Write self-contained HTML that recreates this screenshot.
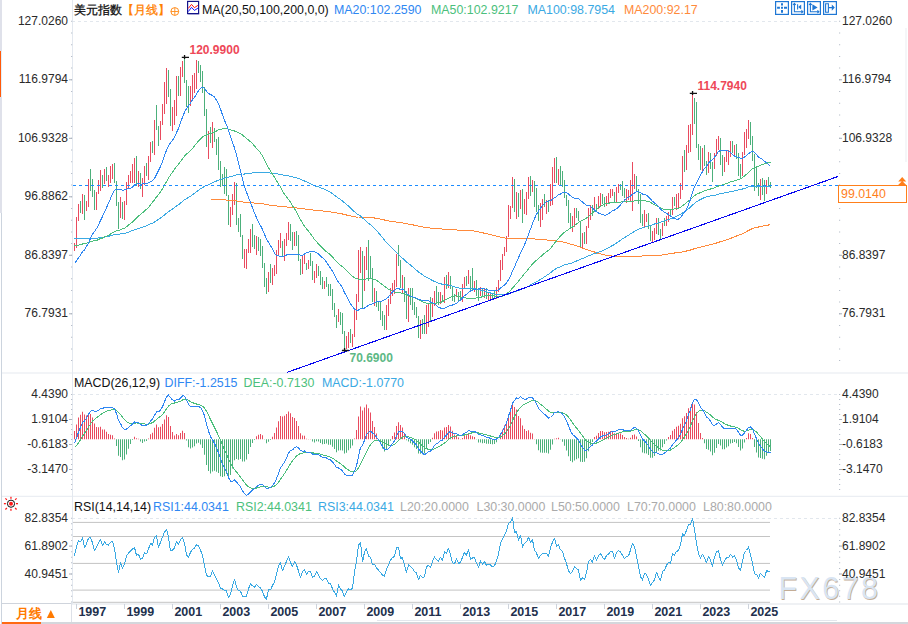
<!DOCTYPE html>
<html><head><meta charset="utf-8">
<style>
html,body{margin:0;padding:0;background:#fff;}
body{width:908px;height:624px;overflow:hidden;position:relative;font-family:"Liberation Sans",sans-serif;}
svg{position:absolute;left:0;top:0;}
.ax{font-size:12px;fill:#2a2a2a;}
.pk{font-size:12px;font-weight:bold;}
.yr{font-size:12.5px;font-weight:bold;fill:#22304d;}
.wm{font-size:30.5px;letter-spacing:2.4px;}
.hd{position:absolute;white-space:nowrap;font-size:12.4px;line-height:14px;}
</style></head><body>
<svg width="908" height="624" viewBox="0 0 908 624">
<text x="779.3" y="599.5" class="wm" fill="#c4ad96">FX678</text>
<text x="778.5" y="598.7" class="wm" fill="#d9e5f3">FX678</text>
<rect x="0" y="0" width="2" height="213" fill="#dfe1ea"/>
<rect x="1" y="213" width="1" height="411" fill="#ccd4de"/>
<rect x="0" y="51" width="1" height="46" fill="#ff5a0a"/>
<rect x="1" y="51" width="1" height="46" fill="#e3eef8"/>
<rect x="2" y="372.5" width="906" height="1" fill="#e6eaf0"/>
<rect x="2" y="495.8" width="906" height="1" fill="#e6eaf0"/>
<rect x="72" y="603.5" width="836" height="1" fill="#dfe3ea"/>
<rect x="72" y="0" width="1" height="604" fill="#e3e8ef"/>
<rect x="905.5" y="28" width="1" height="134" fill="#eceef2"/>
<line x1="72" y1="21.5" x2="838" y2="21.5" stroke="#e2e7ed" stroke-width="1" stroke-dasharray="3,3"/>
<path d="M71,20.8h1.2v1h-1.2zM839,20.8h1.2v1h-1.2zM71,32.5h1.2v1h-1.2zM839,32.5h1.2v1h-1.2zM71,44.2h1.2v1h-1.2zM839,44.2h1.2v1h-1.2zM71,55.9h1.2v1h-1.2zM839,55.9h1.2v1h-1.2zM71,67.6h1.2v1h-1.2zM839,67.6h1.2v1h-1.2zM71,79.3h1.2v1h-1.2zM839,79.3h1.2v1h-1.2zM71,91.0h1.2v1h-1.2zM839,91.0h1.2v1h-1.2zM71,102.7h1.2v1h-1.2zM839,102.7h1.2v1h-1.2zM71,114.4h1.2v1h-1.2zM839,114.4h1.2v1h-1.2zM71,126.1h1.2v1h-1.2zM839,126.1h1.2v1h-1.2zM71,137.8h1.2v1h-1.2zM839,137.8h1.2v1h-1.2zM71,149.5h1.2v1h-1.2zM839,149.5h1.2v1h-1.2zM71,161.2h1.2v1h-1.2zM839,161.2h1.2v1h-1.2zM71,172.9h1.2v1h-1.2zM839,172.9h1.2v1h-1.2zM71,184.6h1.2v1h-1.2zM839,184.6h1.2v1h-1.2zM71,196.3h1.2v1h-1.2zM839,196.3h1.2v1h-1.2zM71,208.0h1.2v1h-1.2zM839,208.0h1.2v1h-1.2zM71,219.7h1.2v1h-1.2zM839,219.7h1.2v1h-1.2zM71,231.4h1.2v1h-1.2zM839,231.4h1.2v1h-1.2zM71,243.1h1.2v1h-1.2zM839,243.1h1.2v1h-1.2zM71,254.8h1.2v1h-1.2zM839,254.8h1.2v1h-1.2zM71,266.5h1.2v1h-1.2zM839,266.5h1.2v1h-1.2zM71,278.2h1.2v1h-1.2zM839,278.2h1.2v1h-1.2zM71,289.9h1.2v1h-1.2zM839,289.9h1.2v1h-1.2zM71,301.6h1.2v1h-1.2zM839,301.6h1.2v1h-1.2zM71,313.3h1.2v1h-1.2zM839,313.3h1.2v1h-1.2zM71,325.0h1.2v1h-1.2zM839,325.0h1.2v1h-1.2zM71,336.7h1.2v1h-1.2zM839,336.7h1.2v1h-1.2zM71,348.4h1.2v1h-1.2zM839,348.4h1.2v1h-1.2zM71,360.1h1.2v1h-1.2zM839,360.1h1.2v1h-1.2z" fill="#b8bfca"/>
<text x="68" y="24.9" text-anchor="end" class="ax">127.0260</text>
<text x="842" y="24.9" class="ax">127.0260</text>
<text x="68" y="83.4" text-anchor="end" class="ax">116.9794</text>
<text x="842" y="83.4" class="ax">116.9794</text>
<rect x="69" y="79.3" width="3" height="1" fill="#a9b0bb"/>
<rect x="839" y="79.3" width="3" height="1" fill="#a9b0bb"/>
<text x="68" y="141.9" text-anchor="end" class="ax">106.9328</text>
<text x="842" y="141.9" class="ax">106.9328</text>
<rect x="69" y="137.8" width="3" height="1" fill="#a9b0bb"/>
<rect x="839" y="137.8" width="3" height="1" fill="#a9b0bb"/>
<text x="68" y="200.4" text-anchor="end" class="ax">96.8862</text>
<text x="842" y="200.4" class="ax">96.8862</text>
<rect x="69" y="196.3" width="3" height="1" fill="#a9b0bb"/>
<rect x="839" y="196.3" width="3" height="1" fill="#a9b0bb"/>
<text x="68" y="258.9" text-anchor="end" class="ax">86.8397</text>
<text x="842" y="258.9" class="ax">86.8397</text>
<rect x="69" y="254.8" width="3" height="1" fill="#a9b0bb"/>
<rect x="839" y="254.8" width="3" height="1" fill="#a9b0bb"/>
<text x="68" y="317.4" text-anchor="end" class="ax">76.7931</text>
<text x="842" y="317.4" class="ax">76.7931</text>
<rect x="69" y="313.3" width="3" height="1" fill="#a9b0bb"/>
<rect x="839" y="313.3" width="3" height="1" fill="#a9b0bb"/>
<path d="M74,243h1v8h-1zM76,217h1v31h-1zM78,204h1v17h-1zM82,194h1v20h-1zM86,201h1v10h-1zM88,179h1v28h-1zM96,192h1v18h-1zM98,180h1v14h-1zM100,170h1v21h-1zM104,169h1v15h-1zM108,175h1v12h-1zM110,166h1v17h-1zM112,164h1v15h-1zM120,197h1v21h-1zM124,201h1v19h-1zM126,182h1v23h-1zM128,175h1v14h-1zM130,171h1v12h-1zM132,164h1v19h-1zM134,158h1v25h-1zM138,171h1v16h-1zM142,178h1v19h-1zM144,166h1v19h-1zM148,156h1v24h-1zM150,142h1v20h-1zM154,120h1v35h-1zM160,121h1v19h-1zM162,104h1v21h-1zM164,82h1v32h-1zM166,68h1v36h-1zM172,107h1v24h-1zM174,100h1v25h-1zM176,76h1v40h-1zM180,67h1v29h-1zM182,61h1v16h-1zM190,86h1v20h-1zM192,75h1v26h-1zM194,73h1v20h-1zM196,60h1v29h-1zM208,131h1v28h-1zM212,122h1v26h-1zM230,207h1v20h-1zM232,194h1v21h-1zM234,182h1v23h-1zM244,249h1v19h-1zM246,249h1v20h-1zM248,239h1v14h-1zM250,229h1v24h-1zM256,236h1v19h-1zM268,272h1v20h-1zM272,268h1v17h-1zM274,265h1v11h-1zM276,250h1v24h-1zM278,240h1v15h-1zM280,233h1v15h-1zM284,239h1v22h-1zM286,233h1v13h-1zM288,222h1v18h-1zM294,232h1v14h-1zM302,255h1v19h-1zM304,253h1v11h-1zM308,260h1v9h-1zM314,271h1v12h-1zM316,264h1v14h-1zM324,281h1v8h-1zM338,309h1v13h-1zM346,336h1v13h-1zM348,332h1v16h-1zM352,334h1v13h-1zM354,310h1v27h-1zM356,294h1v26h-1zM358,250h1v52h-1zM360,247h1v26h-1zM364,256h1v35h-1zM366,247h1v23h-1zM374,288h1v18h-1zM386,305h1v25h-1zM388,299h1v17h-1zM390,288h1v16h-1zM392,283h1v13h-1zM394,280h1v14h-1zM396,254h1v33h-1zM402,275h1v19h-1zM408,288h1v34h-1zM420,320h1v19h-1zM426,305h1v29h-1zM428,304h1v23h-1zM432,298h1v19h-1zM434,291h1v15h-1zM440,292h1v12h-1zM444,277h1v26h-1zM448,272h1v16h-1zM456,289h1v8h-1zM462,284h1v18h-1zM464,277h1v12h-1zM468,270h1v14h-1zM474,281h1v11h-1zM480,287h1v9h-1zM484,288h1v10h-1zM488,292h1v8h-1zM490,293h1v7h-1zM496,287h1v12h-1zM498,280h1v12h-1zM500,260h1v21h-1zM502,254h1v16h-1zM504,247h1v9h-1zM506,236h1v16h-1zM508,205h1v32h-1zM510,206h1v13h-1zM512,177h1v31h-1zM516,192h1v27h-1zM520,190h1v19h-1zM524,199h1v15h-1zM526,192h1v23h-1zM528,177h1v22h-1zM532,180h1v12h-1zM540,203h1v24h-1zM542,199h1v21h-1zM546,200h1v14h-1zM550,184h1v22h-1zM552,167h1v38h-1zM554,158h1v25h-1zM558,169h1v16h-1zM572,216h1v16h-1zM574,208h1v19h-1zM582,233h1v15h-1zM586,226h1v18h-1zM588,208h1v20h-1zM590,205h1v15h-1zM594,197h1v14h-1zM598,196h1v13h-1zM600,193h1v13h-1zM606,196h1v10h-1zM608,193h1v10h-1zM610,189h1v9h-1zM612,189h1v7h-1zM616,187h1v15h-1zM618,184h1v9h-1zM626,189h1v14h-1zM628,190h1v10h-1zM630,180h1v21h-1zM632,162h1v49h-1zM634,174h1v15h-1zM644,210h1v17h-1zM646,214h1v8h-1zM652,231h1v11h-1zM654,228h1v12h-1zM656,218h1v16h-1zM662,223h1v13h-1zM666,216h1v10h-1zM668,212h1v10h-1zM672,197h1v18h-1zM676,194h1v16h-1zM678,193h1v15h-1zM680,183h1v16h-1zM682,156h1v34h-1zM686,145h1v25h-1zM688,125h1v28h-1zM690,124h1v28h-1zM692,93h1v42h-1zM702,148h1v25h-1zM708,152h1v21h-1zM714,153h1v16h-1zM716,139h1v17h-1zM718,136h1v14h-1zM724,157h1v15h-1zM726,151h1v11h-1zM728,150h1v15h-1zM730,141h1v16h-1zM734,145h1v11h-1zM742,152h1v24h-1zM744,132h1v23h-1zM746,129h1v19h-1zM748,120h1v19h-1zM760,179h1v21h-1zM766,180h1v14h-1z" fill="#e94b5f"/>
<path d="M80,201h1v12h-1zM84,195h1v25h-1zM90,169h1v22h-1zM92,179h1v18h-1zM94,190h1v20h-1zM102,175h1v13h-1zM106,167h1v14h-1zM114,163h1v20h-1zM116,181h1v25h-1zM118,202h1v27h-1zM122,202h1v17h-1zM136,156h1v30h-1zM140,173h1v16h-1zM146,163h1v13h-1zM152,141h1v12h-1zM156,105h1v25h-1zM158,126h1v20h-1zM168,70h1v27h-1zM170,89h1v37h-1zM178,76h1v20h-1zM184,57h1v26h-1zM186,80h1v27h-1zM188,86h1v27h-1zM198,61h1v12h-1zM200,65h1v17h-1zM202,71h1v22h-1zM204,87h1v29h-1zM206,109h1v38h-1zM210,127h1v16h-1zM214,128h1v14h-1zM216,139h1v16h-1zM218,137h1v33h-1zM220,161h1v26h-1zM222,174h1v12h-1zM224,167h1v27h-1zM226,169h1v27h-1zM228,195h1v30h-1zM236,183h1v42h-1zM238,218h1v14h-1zM240,214h1v23h-1zM242,235h1v24h-1zM252,224h1v23h-1zM254,235h1v14h-1zM258,237h1v14h-1zM260,239h1v17h-1zM262,246h1v22h-1zM264,263h1v24h-1zM266,278h1v16h-1zM270,264h1v19h-1zM282,241h1v16h-1zM290,224h1v17h-1zM292,232h1v18h-1zM296,231h1v15h-1zM298,235h1v26h-1zM300,259h1v16h-1zM306,263h1v7h-1zM310,253h1v13h-1zM312,261h1v19h-1zM318,266h1v10h-1zM320,271h1v14h-1zM322,277h1v12h-1zM326,277h1v10h-1zM328,284h1v12h-1zM330,284h1v12h-1zM332,289h1v21h-1zM334,303h1v14h-1zM336,315h1v13h-1zM340,312h1v13h-1zM342,313h1v21h-1zM344,331h1v19h-1zM350,329h1v14h-1zM362,251h1v57h-1zM368,240h1v41h-1zM370,256h1v23h-1zM372,268h1v34h-1zM376,291h1v16h-1zM378,302h1v9h-1zM380,302h1v18h-1zM382,311h1v15h-1zM384,315h1v15h-1zM398,245h1v21h-1zM400,260h1v28h-1zM404,277h1v25h-1zM406,291h1v28h-1zM410,288h1v17h-1zM412,288h1v22h-1zM414,302h1v13h-1zM416,307h1v11h-1zM418,316h1v22h-1zM422,319h1v15h-1zM424,315h1v19h-1zM430,297h1v24h-1zM436,286h1v18h-1zM438,292h1v13h-1zM442,295h1v6h-1zM446,275h1v14h-1zM450,276h1v13h-1zM452,286h1v15h-1zM454,294h1v8h-1zM458,292h1v9h-1zM460,291h1v9h-1zM466,276h1v10h-1zM470,276h1v16h-1zM472,268h1v23h-1zM476,280h1v16h-1zM478,290h1v11h-1zM482,289h1v7h-1zM486,288h1v11h-1zM492,293h1v6h-1zM494,290h1v9h-1zM514,179h1v33h-1zM518,193h1v24h-1zM522,189h1v34h-1zM530,176h1v20h-1zM534,181h1v26h-1zM536,188h1v24h-1zM538,205h1v16h-1zM544,194h1v13h-1zM548,200h1v12h-1zM556,157h1v26h-1zM560,166h1v19h-1zM562,171h1v16h-1zM564,180h1v18h-1zM566,195h1v11h-1zM568,200h1v23h-1zM570,213h1v15h-1zM576,208h1v10h-1zM578,211h1v10h-1zM580,222h1v26h-1zM584,232h1v12h-1zM592,205h1v11h-1zM596,204h1v7h-1zM602,194h1v10h-1zM604,197h1v10h-1zM614,192h1v10h-1zM620,184h1v6h-1zM622,181h1v15h-1zM624,188h1v10h-1zM636,176h1v15h-1zM638,189h1v15h-1zM640,194h1v29h-1zM642,214h1v12h-1zM648,213h1v16h-1zM650,225h1v16h-1zM658,218h1v17h-1zM660,229h1v10h-1zM664,218h1v8h-1zM670,210h1v7h-1zM674,197h1v9h-1zM684,150h1v22h-1zM694,98h1v26h-1zM696,102h1v46h-1zM698,144h1v16h-1zM700,146h1v24h-1zM704,145h1v21h-1zM706,161h1v14h-1zM710,153h1v16h-1zM712,162h1v20h-1zM720,138h1v27h-1zM722,155h1v21h-1zM732,141h1v12h-1zM736,144h1v15h-1zM738,153h1v23h-1zM740,164h1v14h-1zM750,122h1v23h-1zM752,136h1v25h-1zM754,154h1v37h-1zM756,167h1v21h-1zM758,183h1v13h-1zM762,178h1v17h-1zM764,180h1v21h-1zM768,177h1v10h-1zM770,182h1v6h-1z" fill="#4cb07b"/>
<polyline points="210.5,199.2 212.5,199.1 214.5,199.2 216.5,199.3 218.5,199.4 220.5,199.5 222.5,199.7 224.5,199.9 226.5,200.1 228.5,200.5 230.5,200.7 232.5,200.9 234.5,200.9 236.5,201.0 238.5,201.3 240.5,201.6 242.5,201.9 244.5,202.2 246.5,202.4 248.5,202.6 250.5,202.7 252.5,202.9 254.5,203.1 256.5,203.3 258.5,203.4 260.5,203.6 262.5,203.8 264.5,204.1 266.5,204.5 268.5,204.9 270.5,205.2 272.5,205.5 274.5,205.7 276.5,206.0 278.5,206.2 280.5,206.4 282.5,206.6 284.5,206.8 286.5,207.0 288.5,207.1 290.5,207.3 292.5,207.5 294.5,207.7 296.5,208.0 298.5,208.2 300.5,208.5 302.5,208.8 304.5,209.0 306.5,209.3 308.5,209.5 310.5,209.7 312.5,210.0 314.5,210.2 316.5,210.3 318.5,210.5 320.5,210.8 322.5,211.0 324.5,211.3 326.5,211.5 328.5,211.7 330.5,211.9 332.5,212.2 334.5,212.5 336.5,212.9 338.5,213.2 340.5,213.6 342.5,214.0 344.5,214.6 346.5,215.0 348.5,215.4 350.5,215.9 352.5,216.5 354.5,216.9 356.5,217.1 358.5,217.0 360.5,217.1 362.5,217.3 364.5,217.3 366.5,217.3 368.5,217.5 370.5,217.6 372.5,217.8 374.5,218.0 376.5,218.4 378.5,218.7 380.5,219.1 382.5,219.6 384.5,220.0 386.5,220.5 388.5,220.9 390.5,221.3 392.5,221.6 394.5,221.9 396.5,222.1 398.5,222.3 400.5,222.6 402.5,222.9 404.5,223.2 406.5,223.7 408.5,224.1 410.5,224.4 412.5,224.8 414.5,225.2 416.5,225.6 418.5,226.1 420.5,226.4 422.5,226.8 424.5,227.3 426.5,227.5 428.5,227.8 430.5,228.1 432.5,228.3 434.5,228.5 436.5,228.6 438.5,228.8 440.5,228.9 442.5,229.1 444.5,229.3 446.5,229.3 448.5,229.4 450.5,229.5 452.5,229.6 454.5,229.8 456.5,230.0 458.5,230.2 460.5,230.3 462.5,230.5 464.5,230.5 466.5,230.6 468.5,230.7 470.5,230.8 472.5,230.9 474.5,231.1 476.5,231.4 478.5,231.9 480.5,232.3 482.5,232.8 484.5,233.2 486.5,233.6 488.5,234.2 490.5,234.7 492.5,235.2 494.5,235.7 496.5,236.2 498.5,236.6 500.5,237.1 502.5,237.5 504.5,237.9 506.5,238.2 508.5,238.3 510.5,238.5 512.5,238.6 514.5,238.7 516.5,238.7 518.5,238.7 520.5,238.7 522.5,238.6 524.5,238.6 526.5,238.7 528.5,238.7 530.5,238.8 532.5,238.9 534.5,239.0 536.5,239.2 538.5,239.4 540.5,239.5 542.5,239.6 544.5,239.8 546.5,239.9 548.5,240.2 550.5,240.4 552.5,240.5 554.5,240.7 556.5,241.0 558.5,241.1 560.5,241.4 562.5,241.8 564.5,242.3 566.5,242.9 568.5,243.5 570.5,244.1 572.5,244.6 574.5,245.1 576.5,245.8 578.5,246.4 580.5,247.3 582.5,248.1 584.5,248.9 586.5,249.6 588.5,250.1 590.5,250.7 592.5,251.4 594.5,252.0 596.5,252.7 598.5,253.3 600.5,253.9 602.5,254.5 604.5,255.0 606.5,255.3 608.5,255.6 610.5,255.8 612.5,256.1 614.5,256.5 616.5,256.7 618.5,256.8 620.5,256.8 622.5,256.9 624.5,256.9 626.5,256.9 628.5,256.8 630.5,256.7 632.5,256.5 634.5,256.5 636.5,256.4 638.5,256.2 640.5,256.1 642.5,256.0 644.5,255.8 646.5,255.6 648.5,255.5 650.5,255.5 652.5,255.5 654.5,255.4 656.5,255.3 658.5,255.2 660.5,255.2 662.5,255.0 664.5,254.7 666.5,254.3 668.5,254.0 670.5,253.7 672.5,253.4 674.5,253.0 676.5,252.8 678.5,252.5 680.5,252.3 682.5,251.8 684.5,251.4 686.5,251.0 688.5,250.5 690.5,250.0 692.5,249.3 694.5,248.7 696.5,248.2 698.5,247.7 700.5,247.2 702.5,246.6 704.5,246.2 706.5,245.7 708.5,245.2 710.5,244.7 712.5,244.2 714.5,243.6 716.5,243.0 718.5,242.3 720.5,241.7 722.5,241.1 724.5,240.5 726.5,239.8 728.5,239.1 730.5,238.4 732.5,237.6 734.5,236.8 736.5,236.0 738.5,235.2 740.5,234.5 742.5,233.7 744.5,232.6 746.5,231.6 748.5,230.5 750.5,229.5 752.5,228.6 754.5,227.9 756.5,227.4 758.5,227.0 760.5,226.7 762.5,226.1 764.5,225.8 766.5,225.5 768.5,225.0 770.5,224.6" fill="none" stroke="#ff8a3b" stroke-width="1.0" stroke-linejoin="round" shape-rendering="crispEdges" />
<polyline points="74.5,238.1 76.5,238.2 78.5,238.2 80.5,238.4 82.5,238.4 84.5,238.5 86.5,238.4 88.5,238.2 90.5,238.2 92.5,238.1 94.5,238.2 96.5,238.2 98.5,237.9 100.5,237.6 102.5,237.5 104.5,237.0 106.5,236.6 108.5,236.3 110.5,235.7 112.5,235.2 114.5,234.7 116.5,234.3 118.5,234.2 120.5,233.9 122.5,233.7 124.5,233.4 126.5,232.9 128.5,232.2 130.5,231.3 132.5,230.6 134.5,229.8 136.5,229.1 138.5,228.4 140.5,227.7 142.5,227.1 144.5,226.6 146.5,225.7 148.5,224.8 150.5,223.8 152.5,223.1 154.5,222.0 156.5,220.6 158.5,219.3 160.5,218.1 162.5,216.6 164.5,215.0 166.5,213.3 168.5,211.8 170.5,210.4 172.5,209.0 174.5,207.6 176.5,206.1 178.5,204.7 180.5,203.1 182.5,201.4 184.5,199.7 186.5,198.6 188.5,197.5 190.5,196.3 192.5,194.7 194.5,193.3 196.5,191.9 198.5,190.2 200.5,188.8 202.5,187.6 204.5,186.3 206.5,185.6 208.5,184.8 210.5,183.8 212.5,182.8 214.5,181.9 216.5,181.0 218.5,180.3 220.5,179.5 222.5,178.8 224.5,178.3 226.5,177.6 228.5,177.1 230.5,176.7 232.5,176.2 234.5,175.4 236.5,174.8 238.5,174.4 240.5,174.1 242.5,174.0 244.5,174.0 246.5,173.8 248.5,173.7 250.5,173.3 252.5,172.9 254.5,172.8 256.5,172.6 258.5,172.5 260.5,172.4 262.5,172.4 264.5,172.5 266.5,172.8 268.5,172.9 270.5,173.1 272.5,173.2 274.5,173.4 276.5,173.7 278.5,174.1 280.5,174.3 282.5,174.9 284.5,175.2 286.5,175.5 288.5,175.9 290.5,176.4 292.5,177.0 294.5,177.3 296.5,177.7 298.5,178.4 300.5,179.4 302.5,180.1 304.5,181.0 306.5,181.9 308.5,182.7 310.5,183.6 312.5,184.7 314.5,185.7 316.5,186.4 318.5,186.9 320.5,187.7 322.5,188.4 324.5,189.1 326.5,190.1 328.5,191.2 330.5,192.4 332.5,193.8 334.5,195.3 336.5,196.8 338.5,198.1 340.5,199.5 342.5,201.0 344.5,202.7 346.5,204.4 348.5,206.1 350.5,208.0 352.5,209.9 354.5,211.8 356.5,213.5 358.5,214.8 360.5,216.0 362.5,217.9 364.5,219.6 366.5,221.4 368.5,223.2 370.5,224.8 372.5,226.6 374.5,228.4 376.5,230.6 378.5,232.8 380.5,235.2 382.5,237.7 384.5,240.2 386.5,242.3 388.5,244.3 390.5,246.3 392.5,248.4 394.5,250.4 396.5,252.4 398.5,254.3 400.5,256.3 402.5,258.2 404.5,260.1 406.5,261.9 408.5,263.4 410.5,265.1 412.5,266.8 414.5,268.5 416.5,270.2 418.5,271.9 420.5,273.3 422.5,274.8 424.5,276.2 426.5,277.5 428.5,278.4 430.5,279.4 432.5,280.5 434.5,281.5 436.5,282.4 438.5,283.1 440.5,283.8 442.5,284.2 444.5,284.5 446.5,284.8 448.5,285.2 450.5,285.7 452.5,286.2 454.5,286.8 456.5,287.3 458.5,287.8 460.5,288.3 462.5,288.5 464.5,288.5 466.5,288.5 468.5,288.4 470.5,288.5 472.5,288.6 474.5,288.8 476.5,289.2 478.5,289.7 480.5,290.2 482.5,290.7 484.5,291.1 486.5,291.7 488.5,292.4 490.5,293.0 492.5,293.5 494.5,294.1 496.5,294.6 498.5,294.9 500.5,294.8 502.5,294.8 504.5,294.7 506.5,294.4 508.5,294.0 510.5,293.4 512.5,292.5 514.5,291.8 516.5,291.1 518.5,290.5 520.5,289.6 522.5,288.9 524.5,288.1 526.5,287.3 528.5,286.2 530.5,285.1 532.5,283.9 534.5,282.8 536.5,281.6 538.5,280.6 540.5,279.5 542.5,278.3 544.5,276.9 546.5,275.5 548.5,274.2 550.5,272.7 552.5,271.1 554.5,269.6 556.5,268.4 558.5,267.5 560.5,266.7 562.5,265.6 564.5,264.9 566.5,264.4 568.5,263.9 570.5,263.4 572.5,262.7 574.5,261.9 576.5,261.0 578.5,260.1 580.5,259.3 582.5,258.5 584.5,257.7 586.5,256.8 588.5,255.9 590.5,255.1 592.5,254.4 594.5,253.5 596.5,253.0 598.5,252.4 600.5,251.5 602.5,250.8 604.5,249.9 606.5,248.7 608.5,247.7 610.5,246.6 612.5,245.5 614.5,244.4 616.5,243.1 618.5,241.7 620.5,240.3 622.5,238.9 624.5,237.6 626.5,236.4 628.5,235.2 630.5,233.9 632.5,232.6 634.5,231.5 636.5,230.3 638.5,229.3 640.5,228.5 642.5,227.8 644.5,227.1 646.5,226.4 648.5,225.9 650.5,225.4 652.5,224.7 654.5,224.0 656.5,223.4 658.5,222.7 660.5,222.1 662.5,221.4 664.5,220.9 666.5,220.2 668.5,219.6 670.5,218.9 672.5,218.1 674.5,217.3 676.5,216.3 678.5,215.3 680.5,214.3 682.5,213.0 684.5,211.8 686.5,210.3 688.5,208.7 690.5,207.1 692.5,205.1 694.5,203.3 696.5,201.8 698.5,200.5 700.5,199.5 702.5,198.5 704.5,197.6 706.5,196.9 708.5,196.3 710.5,195.9 712.5,195.8 714.5,195.4 716.5,194.8 718.5,194.1 720.5,193.7 722.5,193.3 724.5,192.9 726.5,192.4 728.5,192.1 730.5,191.7 732.5,191.3 734.5,190.8 736.5,190.3 738.5,189.9 740.5,189.5 742.5,189.0 744.5,188.4 746.5,187.7 748.5,186.8 750.5,186.3 752.5,186.1 754.5,186.3 756.5,186.4 758.5,186.6 760.5,186.6 762.5,186.7 764.5,186.7 766.5,186.5 768.5,186.2 770.5,185.8" fill="none" stroke="#3aa9e3" stroke-width="1.0" stroke-linejoin="round" shape-rendering="crispEdges" />
<polyline points="74.5,245.8 76.5,245.7 78.5,245.1 80.5,244.6 82.5,244.0 84.5,243.3 86.5,243.1 88.5,242.5 90.5,241.9 92.5,241.1 94.5,240.7 96.5,240.5 98.5,239.5 100.5,238.6 102.5,238.1 104.5,236.9 106.5,236.2 108.5,235.3 110.5,234.0 112.5,232.8 114.5,231.7 116.5,230.9 118.5,230.7 120.5,229.7 122.5,228.9 124.5,228.2 126.5,226.8 128.5,225.1 130.5,223.5 132.5,221.9 134.5,219.9 136.5,217.9 138.5,216.1 140.5,214.4 142.5,212.8 144.5,211.2 146.5,209.2 148.5,207.4 150.5,204.8 152.5,202.3 154.5,199.7 156.5,197.0 158.5,194.7 160.5,191.9 162.5,188.8 164.5,185.3 166.5,181.6 168.5,178.0 170.5,175.1 172.5,172.2 174.5,169.4 176.5,166.6 178.5,164.3 180.5,161.6 182.5,158.9 184.5,156.2 186.5,154.1 188.5,152.5 190.5,150.6 192.5,148.4 194.5,145.9 196.5,143.3 198.5,141.0 200.5,139.0 202.5,137.1 204.5,135.8 206.5,135.0 208.5,134.2 210.5,133.6 212.5,132.8 214.5,132.0 216.5,131.0 218.5,129.8 220.5,129.4 222.5,128.7 224.5,128.4 226.5,128.4 228.5,129.2 230.5,129.9 232.5,130.5 234.5,131.0 236.5,131.7 238.5,132.8 240.5,133.7 242.5,135.1 244.5,136.8 246.5,138.4 248.5,140.0 250.5,141.8 252.5,143.6 254.5,145.9 256.5,148.3 258.5,150.4 260.5,152.9 262.5,156.0 264.5,159.8 266.5,164.0 268.5,167.8 270.5,171.0 272.5,174.2 274.5,177.4 276.5,180.8 278.5,183.9 280.5,187.1 282.5,190.9 284.5,194.2 286.5,196.9 288.5,199.4 290.5,202.3 292.5,205.6 294.5,208.7 296.5,212.2 298.5,215.9 300.5,219.7 302.5,223.2 304.5,226.1 306.5,228.8 308.5,231.2 310.5,233.7 312.5,236.6 314.5,239.4 316.5,241.7 318.5,243.9 320.5,246.0 322.5,248.0 324.5,249.9 326.5,251.8 328.5,253.3 330.5,254.9 332.5,257.0 334.5,259.6 336.5,261.8 338.5,263.4 340.5,265.3 342.5,266.8 344.5,268.6 346.5,270.3 348.5,272.2 350.5,274.3 352.5,276.2 354.5,277.6 356.5,278.8 358.5,279.1 360.5,279.2 362.5,279.8 364.5,279.5 366.5,278.7 368.5,278.6 370.5,278.5 372.5,278.9 374.5,279.4 376.5,280.3 378.5,281.6 380.5,283.2 382.5,284.6 384.5,286.2 386.5,287.7 388.5,289.3 390.5,290.4 392.5,291.2 394.5,292.2 396.5,292.6 398.5,292.7 400.5,292.9 402.5,293.3 404.5,294.1 406.5,295.0 408.5,295.6 410.5,296.4 412.5,297.0 414.5,297.7 416.5,298.7 418.5,299.9 420.5,300.7 422.5,301.6 424.5,302.6 426.5,303.1 428.5,303.5 430.5,303.9 432.5,303.9 434.5,303.5 436.5,303.0 438.5,302.8 440.5,302.3 442.5,301.7 444.5,300.4 446.5,299.4 448.5,298.2 450.5,297.1 452.5,296.3 454.5,296.0 456.5,295.8 458.5,296.5 460.5,297.4 462.5,297.3 464.5,297.6 466.5,298.2 468.5,298.3 470.5,298.5 472.5,298.4 474.5,298.2 476.5,298.0 478.5,297.8 480.5,297.3 482.5,296.7 484.5,296.0 486.5,295.7 488.5,295.5 490.5,295.6 492.5,295.8 494.5,296.0 496.5,296.6 498.5,297.0 500.5,296.7 502.5,296.3 504.5,295.4 506.5,293.9 508.5,292.3 510.5,290.5 512.5,288.1 514.5,285.9 516.5,283.6 518.5,281.1 520.5,278.5 522.5,276.2 524.5,273.7 526.5,271.4 528.5,268.8 530.5,266.4 532.5,264.0 534.5,262.1 536.5,260.2 538.5,258.5 540.5,256.8 542.5,254.9 544.5,253.3 546.5,251.6 548.5,250.3 550.5,248.4 552.5,246.0 554.5,243.2 556.5,241.0 558.5,238.4 560.5,236.1 562.5,234.0 564.5,232.3 566.5,230.7 568.5,229.5 570.5,228.2 572.5,227.0 574.5,225.5 576.5,224.0 578.5,222.4 580.5,221.4 582.5,220.3 584.5,219.3 586.5,218.0 588.5,216.4 590.5,214.7 592.5,213.0 594.5,211.1 596.5,209.4 598.5,207.8 600.5,206.4 602.5,205.2 604.5,204.3 606.5,203.5 608.5,203.2 610.5,202.8 612.5,202.9 614.5,202.8 616.5,202.7 618.5,202.2 620.5,202.1 622.5,201.6 624.5,201.5 626.5,201.4 628.5,201.6 630.5,201.5 632.5,201.3 634.5,200.8 636.5,200.5 638.5,200.1 640.5,200.3 642.5,200.6 644.5,200.9 646.5,201.1 648.5,201.4 650.5,202.4 652.5,203.5 654.5,204.9 656.5,205.8 658.5,206.9 660.5,208.0 662.5,208.9 664.5,209.5 666.5,209.8 668.5,209.8 670.5,209.6 672.5,209.2 674.5,209.0 676.5,208.7 678.5,208.3 680.5,207.2 682.5,205.7 684.5,204.2 686.5,202.7 688.5,201.0 690.5,199.5 692.5,197.3 694.5,195.6 696.5,194.2 698.5,193.3 700.5,192.7 702.5,191.7 704.5,190.8 706.5,190.3 708.5,189.5 710.5,189.0 712.5,188.7 714.5,187.9 716.5,186.9 718.5,186.0 720.5,185.4 722.5,184.9 724.5,184.3 726.5,183.5 728.5,182.7 730.5,181.9 732.5,181.4 734.5,180.8 736.5,180.2 738.5,179.6 740.5,178.7 742.5,177.5 744.5,175.9 746.5,174.3 748.5,172.3 750.5,170.3 752.5,168.7 754.5,167.7 756.5,166.9 758.5,166.2 760.5,165.1 762.5,164.4 764.5,163.8 766.5,163.2 768.5,162.6 770.5,162.0" fill="none" stroke="#4cbf7c" stroke-width="1.0" stroke-linejoin="round" shape-rendering="crispEdges" />
<polyline points="74.5,263.4 76.5,260.7 78.5,257.8 80.5,255.0 82.5,251.7 84.5,249.9 86.5,246.4 88.5,243.0 90.5,238.4 92.5,234.3 94.5,231.6 96.5,228.6 98.5,225.0 100.5,220.5 102.5,216.5 104.5,211.8 106.5,207.6 108.5,203.1 110.5,198.5 112.5,193.9 114.5,190.5 116.5,189.2 118.5,189.9 120.5,189.5 122.5,190.3 124.5,189.9 126.5,189.1 128.5,188.8 130.5,188.2 132.5,187.0 134.5,185.0 136.5,184.1 138.5,183.6 140.5,184.1 142.5,184.0 144.5,183.9 146.5,183.7 148.5,182.9 150.5,181.8 152.5,180.9 154.5,178.4 156.5,174.6 158.5,170.5 160.5,166.7 162.5,161.5 164.5,155.7 166.5,150.2 168.5,145.7 170.5,142.9 172.5,140.1 174.5,137.2 176.5,132.6 178.5,128.4 180.5,122.9 182.5,117.0 184.5,112.3 186.5,108.6 188.5,105.8 190.5,103.0 192.5,99.6 194.5,97.1 196.5,94.3 198.5,90.7 200.5,88.3 202.5,87.2 204.5,88.1 206.5,91.1 208.5,93.5 210.5,94.6 212.5,95.4 214.5,97.0 216.5,100.2 218.5,103.7 220.5,109.0 222.5,114.9 224.5,120.5 226.5,124.9 228.5,130.5 230.5,136.5 232.5,142.4 234.5,147.9 236.5,155.2 238.5,163.2 240.5,170.8 242.5,179.1 244.5,186.4 246.5,192.2 248.5,197.4 250.5,202.3 252.5,207.9 254.5,213.2 256.5,217.7 258.5,222.0 260.5,225.6 262.5,229.5 264.5,234.2 266.5,239.3 268.5,242.2 270.5,245.5 272.5,249.2 274.5,253.2 276.5,255.3 278.5,256.0 280.5,256.3 282.5,256.3 284.5,255.9 286.5,255.0 288.5,254.2 290.5,254.3 292.5,254.5 294.5,254.0 296.5,254.1 298.5,254.4 300.5,255.4 302.5,255.3 304.5,254.0 306.5,252.9 308.5,252.2 310.5,251.4 312.5,251.5 314.5,251.8 316.5,252.4 318.5,253.9 320.5,256.1 322.5,257.8 324.5,259.7 326.5,262.1 328.5,265.4 330.5,268.2 332.5,271.2 334.5,275.1 336.5,279.2 338.5,282.1 340.5,284.6 342.5,288.1 344.5,292.5 346.5,296.1 348.5,299.8 350.5,303.6 352.5,306.7 354.5,308.9 356.5,310.5 358.5,310.0 360.5,308.6 362.5,309.0 364.5,308.1 366.5,306.5 368.5,305.4 370.5,304.4 372.5,303.9 374.5,302.8 376.5,301.7 378.5,301.5 380.5,301.2 382.5,300.9 384.5,299.9 386.5,298.5 388.5,296.9 390.5,294.6 392.5,292.0 394.5,290.3 396.5,288.4 398.5,288.3 400.5,289.7 402.5,289.0 404.5,290.5 406.5,293.5 408.5,294.8 410.5,296.1 412.5,296.7 414.5,297.6 416.5,298.3 418.5,299.5 420.5,299.9 422.5,300.4 424.5,300.5 426.5,300.6 428.5,300.9 430.5,302.0 432.5,302.9 434.5,303.4 436.5,305.3 438.5,307.3 440.5,308.0 442.5,309.0 444.5,308.5 446.5,307.2 448.5,306.1 450.5,305.4 452.5,305.0 454.5,304.4 456.5,303.2 458.5,301.5 460.5,300.2 462.5,298.1 464.5,295.6 466.5,294.2 468.5,292.4 470.5,291.0 472.5,290.1 474.5,289.6 476.5,289.2 478.5,289.0 480.5,288.7 482.5,288.5 484.5,288.8 486.5,289.3 488.5,290.2 490.5,290.7 492.5,290.7 494.5,290.5 496.5,290.5 498.5,289.7 500.5,288.1 502.5,286.6 504.5,285.0 506.5,282.8 508.5,279.8 510.5,275.9 512.5,270.9 514.5,266.9 516.5,262.2 518.5,257.8 520.5,253.1 522.5,249.1 524.5,244.8 526.5,239.8 528.5,234.3 530.5,229.1 532.5,223.4 534.5,218.6 536.5,214.3 538.5,211.0 540.5,208.2 542.5,205.5 544.5,203.2 546.5,201.4 548.5,201.2 550.5,200.2 552.5,199.8 554.5,197.8 556.5,196.7 558.5,194.8 560.5,194.1 562.5,192.5 564.5,192.1 566.5,192.3 568.5,194.1 570.5,195.7 572.5,197.6 574.5,198.2 576.5,198.7 578.5,198.8 580.5,200.4 582.5,202.0 584.5,203.9 586.5,205.2 588.5,205.4 590.5,206.4 592.5,208.2 594.5,210.0 596.5,211.7 598.5,213.0 600.5,213.8 602.5,214.7 604.5,215.2 606.5,215.0 608.5,213.9 610.5,212.3 612.5,210.8 614.5,210.1 616.5,208.9 618.5,207.3 620.5,204.7 622.5,202.5 624.5,200.2 626.5,198.3 628.5,197.3 630.5,196.1 632.5,194.2 634.5,193.0 636.5,191.9 638.5,191.9 640.5,192.9 642.5,194.0 644.5,194.5 646.5,195.4 648.5,196.8 650.5,199.1 652.5,201.3 654.5,202.9 656.5,204.4 658.5,206.6 660.5,209.0 662.5,210.7 664.5,212.2 666.5,213.4 668.5,214.5 670.5,216.0 672.5,217.4 674.5,218.7 676.5,219.2 678.5,219.1 680.5,217.6 682.5,214.7 684.5,212.3 686.5,209.1 688.5,204.5 690.5,199.1 692.5,192.6 694.5,186.9 696.5,182.7 698.5,178.9 700.5,175.3 702.5,171.7 704.5,168.5 706.5,166.2 708.5,163.3 710.5,160.8 712.5,159.6 714.5,157.2 716.5,154.5 718.5,151.6 720.5,150.2 722.5,150.5 724.5,150.2 726.5,150.3 728.5,151.4 730.5,152.1 732.5,154.5 734.5,156.0 736.5,156.9 738.5,157.6 740.5,158.2 742.5,158.3 744.5,157.2 746.5,155.3 748.5,153.7 750.5,152.4 752.5,151.3 754.5,152.5 756.5,154.5 758.5,157.1 760.5,158.4 762.5,159.4 764.5,161.2 766.5,162.6 768.5,164.2 770.5,166.3" fill="none" stroke="#2f87f2" stroke-width="1.0" stroke-linejoin="round" shape-rendering="crispEdges" />
<line x1="73" y1="185.5" x2="838" y2="185.5" stroke="#1b8cff" stroke-width="1.1" stroke-dasharray="3,3"/>
<line x1="287" y1="372.4" x2="838" y2="176.5" stroke="#0808f0" stroke-width="1.1" shape-rendering="crispEdges"/>
<rect x="838.5" y="185.5" width="68" height="17" fill="#fff" stroke="#ff7f1a" stroke-width="1"/>
<text x="841" y="197.8" class="ax" style="fill:#ff7f1a;font-size:12.4px">99.0140</text>
<path d="M898.2,181.6 L902.2,177 L906.2,181.6 Z M897.6,185.6 L902.2,181 L906.8,185.6 Z" fill="#ff7f1a"/>
<path d="M181.8,56.7h7.2v1.4h-7.2zM183.9,55h1.3v4h-1.3zM689.8,92.7h7.2v1.4h-7.2zM691.9,91h1.3v4h-1.3zM341.9,349.8h6.9v1.4h-6.9zM343.9,348h1.3v3.8h-1.3z" fill="#111"/>
<text x="189.5" y="53.9" class="pk" fill="#ee4858">120.9900</text>
<text x="697.5" y="89.8" class="pk" fill="#ee4858">114.7940</text>
<text x="349.5" y="362" class="pk" fill="#5cb885">70.6900</text>
<line x1="72" y1="394.5" x2="838" y2="394.5" stroke="#e2e7ed" stroke-dasharray="3,3"/>
<path d="M71,394.0h1.2v1h-1.2zM839,394.0h1.2v1h-1.2zM71,399.0h1.2v1h-1.2zM839,399.0h1.2v1h-1.2zM71,404.0h1.2v1h-1.2zM839,404.0h1.2v1h-1.2zM71,409.0h1.2v1h-1.2zM839,409.0h1.2v1h-1.2zM71,414.0h1.2v1h-1.2zM839,414.0h1.2v1h-1.2zM71,419.0h1.2v1h-1.2zM839,419.0h1.2v1h-1.2zM71,424.0h1.2v1h-1.2zM839,424.0h1.2v1h-1.2zM71,429.0h1.2v1h-1.2zM839,429.0h1.2v1h-1.2zM71,434.0h1.2v1h-1.2zM839,434.0h1.2v1h-1.2zM71,439.0h1.2v1h-1.2zM839,439.0h1.2v1h-1.2zM71,444.0h1.2v1h-1.2zM839,444.0h1.2v1h-1.2zM71,449.0h1.2v1h-1.2zM839,449.0h1.2v1h-1.2zM71,454.0h1.2v1h-1.2zM839,454.0h1.2v1h-1.2zM71,459.0h1.2v1h-1.2zM839,459.0h1.2v1h-1.2zM71,464.0h1.2v1h-1.2zM839,464.0h1.2v1h-1.2zM71,469.0h1.2v1h-1.2zM839,469.0h1.2v1h-1.2zM71,474.0h1.2v1h-1.2zM839,474.0h1.2v1h-1.2zM71,479.0h1.2v1h-1.2zM839,479.0h1.2v1h-1.2zM71,484.0h1.2v1h-1.2zM839,484.0h1.2v1h-1.2zM71,489.0h1.2v1h-1.2zM839,489.0h1.2v1h-1.2z" fill="#b8bfca"/>
<text x="68" y="398.1" text-anchor="end" class="ax">4.4390</text>
<text x="842" y="398.1" class="ax">4.4390</text>
<text x="68" y="423.1" text-anchor="end" class="ax">1.9104</text>
<text x="842" y="423.1" class="ax">1.9104</text>
<rect x="69" y="419.0" width="3" height="1" fill="#a9b0bb"/>
<rect x="839" y="419.0" width="3" height="1" fill="#a9b0bb"/>
<text x="68" y="448.1" text-anchor="end" class="ax">-0.6183</text>
<text x="842" y="448.1" class="ax">-0.6183</text>
<rect x="69" y="444.0" width="3" height="1" fill="#a9b0bb"/>
<rect x="839" y="444.0" width="3" height="1" fill="#a9b0bb"/>
<text x="68" y="473.1" text-anchor="end" class="ax">-3.1470</text>
<text x="842" y="473.1" class="ax">-3.1470</text>
<rect x="69" y="469.0" width="3" height="1" fill="#a9b0bb"/>
<rect x="839" y="469.0" width="3" height="1" fill="#a9b0bb"/>
<path d="M74,431.0h1V439.3h-1zM76,424.5h1V439.3h-1zM78,417.6h1V439.3h-1zM80,414.7h1V439.3h-1zM82,411.7h1V439.3h-1zM84,414.5h1V439.3h-1zM86,415.6h1V439.3h-1zM88,413.8h1V439.3h-1zM90,414.1h1V439.3h-1zM92,417.4h1V439.3h-1zM94,423.6h1V439.3h-1zM96,427.0h1V439.3h-1zM98,427.3h1V439.3h-1zM100,426.7h1V439.3h-1zM102,429.5h1V439.3h-1zM104,429.6h1V439.3h-1zM106,431.8h1V439.3h-1zM108,434.1h1V439.3h-1zM110,434.7h1V439.3h-1zM112,435.3h1V439.3h-1zM114,438.6h1V439.3h-1zM134,436.8h1V439.3h-1zM136,438.2h1V439.3h-1zM138,438.7h1V439.3h-1zM148,438.6h1V439.3h-1zM150,434.3h1V439.3h-1zM152,432.7h1V439.3h-1zM154,427.7h1V439.3h-1zM156,424.4h1V439.3h-1zM158,427.2h1V439.3h-1zM160,426.8h1V439.3h-1zM162,424.0h1V439.3h-1zM164,419.4h1V439.3h-1zM166,415.2h1V439.3h-1zM168,417.1h1V439.3h-1zM170,425.9h1V439.3h-1zM172,432.0h1V439.3h-1zM174,435.4h1V439.3h-1zM176,434.0h1V439.3h-1zM178,435.2h1V439.3h-1zM180,433.1h1V439.3h-1zM182,430.8h1V439.3h-1zM184,433.0h1V439.3h-1zM256,436.3h1V439.3h-1zM258,434.7h1V439.3h-1zM260,433.9h1V439.3h-1zM262,435.2h1V439.3h-1zM272,436.7h1V439.3h-1zM274,432.9h1V439.3h-1zM276,427.5h1V439.3h-1zM278,421.2h1V439.3h-1zM280,415.9h1V439.3h-1zM282,416.6h1V439.3h-1zM284,415.8h1V439.3h-1zM286,414.0h1V439.3h-1zM288,411.6h1V439.3h-1zM290,413.2h1V439.3h-1zM292,417.1h1V439.3h-1zM294,418.0h1V439.3h-1zM296,420.9h1V439.3h-1zM298,426.0h1V439.3h-1zM300,433.2h1V439.3h-1zM302,435.4h1V439.3h-1zM304,435.8h1V439.3h-1zM306,438.7h1V439.3h-1zM308,439.0h1V439.3h-1zM310,439.0h1V439.3h-1zM354,438.5h1V439.3h-1zM356,429.9h1V439.3h-1zM358,416.4h1V439.3h-1zM360,406.5h1V439.3h-1zM362,410.4h1V439.3h-1zM364,407.6h1V439.3h-1zM366,404.6h1V439.3h-1zM368,408.2h1V439.3h-1zM370,412.5h1V439.3h-1zM372,420.9h1V439.3h-1zM374,426.9h1V439.3h-1zM376,433.4h1V439.3h-1zM378,439.2h1V439.3h-1zM392,436.1h1V439.3h-1zM394,432.6h1V439.3h-1zM396,426.0h1V439.3h-1zM398,422.3h1V439.3h-1zM400,425.1h1V439.3h-1zM402,427.4h1V439.3h-1zM404,432.9h1V439.3h-1zM432,437.7h1V439.3h-1zM434,433.2h1V439.3h-1zM436,431.5h1V439.3h-1zM438,431.2h1V439.3h-1zM440,429.9h1V439.3h-1zM442,430.4h1V439.3h-1zM444,427.6h1V439.3h-1zM446,426.9h1V439.3h-1zM448,424.9h1V439.3h-1zM450,426.5h1V439.3h-1zM452,430.8h1V439.3h-1zM454,434.5h1V439.3h-1zM456,435.2h1V439.3h-1zM458,437.6h1V439.3h-1zM460,439.0h1V439.3h-1zM462,438.0h1V439.3h-1zM464,435.7h1V439.3h-1zM466,435.2h1V439.3h-1zM468,433.1h1V439.3h-1zM470,435.2h1V439.3h-1zM472,436.3h1V439.3h-1zM474,437.0h1V439.3h-1zM500,434.1h1V439.3h-1zM502,429.4h1V439.3h-1zM504,425.2h1V439.3h-1zM506,421.3h1V439.3h-1zM508,414.1h1V439.3h-1zM510,410.3h1V439.3h-1zM512,404.3h1V439.3h-1zM514,406.9h1V439.3h-1zM516,409.6h1V439.3h-1zM518,415.9h1V439.3h-1zM520,418.2h1V439.3h-1zM522,425.5h1V439.3h-1zM524,428.9h1V439.3h-1zM526,431.1h1V439.3h-1zM528,430.3h1V439.3h-1zM530,432.8h1V439.3h-1zM532,433.6h1V439.3h-1zM534,439.0h1V439.3h-1zM554,438.7h1V439.3h-1zM556,438.2h1V439.3h-1zM558,437.7h1V439.3h-1zM594,437.1h1V439.3h-1zM596,435.8h1V439.3h-1zM598,433.1h1V439.3h-1zM600,430.9h1V439.3h-1zM602,431.1h1V439.3h-1zM604,432.3h1V439.3h-1zM606,432.1h1V439.3h-1zM608,431.8h1V439.3h-1zM610,431.0h1V439.3h-1zM612,431.0h1V439.3h-1zM614,433.3h1V439.3h-1zM616,433.4h1V439.3h-1zM618,432.8h1V439.3h-1zM620,433.4h1V439.3h-1zM622,435.0h1V439.3h-1zM624,437.0h1V439.3h-1zM626,438.0h1V439.3h-1zM628,438.7h1V439.3h-1zM630,437.8h1V439.3h-1zM632,435.1h1V439.3h-1zM634,434.5h1V439.3h-1zM636,436.6h1V439.3h-1zM668,437.0h1V439.3h-1zM670,435.0h1V439.3h-1zM672,430.7h1V439.3h-1zM674,428.9h1V439.3h-1zM676,426.8h1V439.3h-1zM678,425.8h1V439.3h-1zM680,423.7h1V439.3h-1zM682,418.2h1V439.3h-1zM684,416.3h1V439.3h-1zM686,413.0h1V439.3h-1zM688,408.3h1V439.3h-1zM690,406.9h1V439.3h-1zM692,402.1h1V439.3h-1zM694,404.4h1V439.3h-1zM696,412.1h1V439.3h-1zM698,423.0h1V439.3h-1zM700,433.1h1V439.3h-1zM702,438.1h1V439.3h-1zM746,437.9h1V439.3h-1zM748,433.3h1V439.3h-1zM750,433.9h1V439.3h-1zM752,438.1h1V439.3h-1z" fill="#e94b5f"/>
<path d="M116,439.3h1V446.0h-1zM118,439.3h1V455.7h-1zM120,439.3h1V457.1h-1zM122,439.3h1V460.2h-1zM124,439.3h1V459.5h-1zM126,439.3h1V454.4h-1zM128,439.3h1V448.8h-1zM130,439.3h1V444.1h-1zM132,439.3h1V440.0h-1zM140,439.3h1V441.6h-1zM142,439.3h1V442.9h-1zM144,439.3h1V441.4h-1zM146,439.3h1V441.0h-1zM186,439.3h1V440.6h-1zM188,439.3h1V447.3h-1zM190,439.3h1V448.5h-1zM192,439.3h1V447.5h-1zM194,439.3h1V446.3h-1zM196,439.3h1V443.5h-1zM198,439.3h1V442.8h-1zM200,439.3h1V444.4h-1zM202,439.3h1V447.9h-1zM204,439.3h1V454.8h-1zM206,439.3h1V465.1h-1zM208,439.3h1V470.9h-1zM210,439.3h1V473.5h-1zM212,439.3h1V471.4h-1zM214,439.3h1V470.8h-1zM216,439.3h1V471.7h-1zM218,439.3h1V473.1h-1zM220,439.3h1V476.3h-1zM222,439.3h1V477.0h-1zM224,439.3h1V476.2h-1zM226,439.3h1V474.1h-1zM228,439.3h1V476.7h-1zM230,439.3h1V474.9h-1zM232,439.3h1V468.6h-1zM234,439.3h1V460.2h-1zM236,439.3h1V459.0h-1zM238,439.3h1V459.7h-1zM240,439.3h1V459.0h-1zM242,439.3h1V461.6h-1zM244,439.3h1V461.5h-1zM246,439.3h1V459.5h-1zM248,439.3h1V453.9h-1zM250,439.3h1V447.1h-1zM252,439.3h1V442.9h-1zM254,439.3h1V440.0h-1zM264,439.3h1V439.5h-1zM266,439.3h1V443.2h-1zM268,439.3h1V441.7h-1zM270,439.3h1V440.0h-1zM312,439.3h1V441.6h-1zM314,439.3h1V442.6h-1zM316,439.3h1V441.3h-1zM318,439.3h1V441.4h-1zM320,439.3h1V442.9h-1zM322,439.3h1V444.3h-1zM324,439.3h1V444.0h-1zM326,439.3h1V443.5h-1zM328,439.3h1V444.7h-1zM330,439.3h1V444.8h-1zM332,439.3h1V446.7h-1zM334,439.3h1V449.1h-1zM336,439.3h1V452.2h-1zM338,439.3h1V450.4h-1zM340,439.3h1V450.3h-1zM342,439.3h1V450.6h-1zM344,439.3h1V453.4h-1zM346,439.3h1V452.7h-1zM348,439.3h1V450.2h-1zM350,439.3h1V448.2h-1zM352,439.3h1V445.5h-1zM380,439.3h1V444.2h-1zM382,439.3h1V448.4h-1zM384,439.3h1V451.4h-1zM386,439.3h1V449.5h-1zM388,439.3h1V446.0h-1zM390,439.3h1V440.8h-1zM406,439.3h1V440.3h-1zM408,439.3h1V441.6h-1zM410,439.3h1V443.2h-1zM412,439.3h1V444.8h-1zM414,439.3h1V447.3h-1zM416,439.3h1V449.1h-1zM418,439.3h1V453.5h-1zM420,439.3h1V453.7h-1zM422,439.3h1V454.2h-1zM424,439.3h1V453.5h-1zM426,439.3h1V448.4h-1zM428,439.3h1V444.1h-1zM430,439.3h1V442.0h-1zM476,439.3h1V439.5h-1zM478,439.3h1V442.5h-1zM480,439.3h1V442.4h-1zM482,439.3h1V443.3h-1zM484,439.3h1V442.9h-1zM486,439.3h1V443.8h-1zM488,439.3h1V443.8h-1zM490,439.3h1V443.9h-1zM492,439.3h1V444.2h-1zM494,439.3h1V444.0h-1zM496,439.3h1V442.3h-1zM498,439.3h1V439.6h-1zM536,439.3h1V444.2h-1zM538,439.3h1V450.2h-1zM540,439.3h1V452.5h-1zM542,439.3h1V452.8h-1zM544,439.3h1V452.8h-1zM546,439.3h1V452.7h-1zM548,439.3h1V453.5h-1zM550,439.3h1V449.7h-1zM552,439.3h1V444.4h-1zM560,439.3h1V439.5h-1zM562,439.3h1V441.8h-1zM564,439.3h1V445.8h-1zM566,439.3h1V450.5h-1zM568,439.3h1V456.3h-1zM570,439.3h1V461.0h-1zM572,439.3h1V462.3h-1zM574,439.3h1V460.6h-1zM576,439.3h1V459.3h-1zM578,439.3h1V458.3h-1zM580,439.3h1V461.7h-1zM582,439.3h1V461.9h-1zM584,439.3h1V461.7h-1zM586,439.3h1V458.2h-1zM588,439.3h1V451.2h-1zM590,439.3h1V445.2h-1zM592,439.3h1V442.0h-1zM638,439.3h1V441.1h-1zM640,439.3h1V447.3h-1zM642,439.3h1V452.4h-1zM644,439.3h1V453.3h-1zM646,439.3h1V453.6h-1zM648,439.3h1V454.9h-1zM650,439.3h1V457.7h-1zM652,439.3h1V457.7h-1zM654,439.3h1V456.1h-1zM656,439.3h1V452.2h-1zM658,439.3h1V450.8h-1zM660,439.3h1V450.4h-1zM662,439.3h1V447.2h-1zM664,439.3h1V444.1h-1zM666,439.3h1V440.4h-1zM704,439.3h1V443.3h-1zM706,439.3h1V449.1h-1zM708,439.3h1V449.7h-1zM710,439.3h1V451.5h-1zM712,439.3h1V455.2h-1zM714,439.3h1V452.8h-1zM716,439.3h1V447.9h-1zM718,439.3h1V444.0h-1zM720,439.3h1V445.6h-1zM722,439.3h1V449.3h-1zM724,439.3h1V449.3h-1zM726,439.3h1V447.5h-1zM728,439.3h1V446.3h-1zM730,439.3h1V443.5h-1zM732,439.3h1V442.9h-1zM734,439.3h1V442.0h-1zM736,439.3h1V443.2h-1zM738,439.3h1V447.1h-1zM740,439.3h1V450.4h-1zM742,439.3h1V448.4h-1zM744,439.3h1V442.5h-1zM754,439.3h1V446.9h-1zM756,439.3h1V452.5h-1zM758,439.3h1V457.6h-1zM760,439.3h1V458.0h-1zM762,439.3h1V458.7h-1zM764,439.3h1V459.2h-1zM766,439.3h1V455.8h-1zM768,439.3h1V453.0h-1zM770,439.3h1V450.9h-1z" fill="#4cb07b"/>
<polyline points="74.5,447.4 76.5,445.6 78.5,442.9 80.5,439.8 82.5,436.3 84.5,433.3 86.5,430.3 88.5,427.1 90.5,424.0 92.5,421.2 94.5,419.3 96.5,417.7 98.5,416.2 100.5,414.7 102.5,413.4 104.5,412.2 106.5,411.3 108.5,410.6 110.5,410.1 112.5,409.6 114.5,409.5 116.5,410.3 118.5,412.4 120.5,414.6 122.5,417.2 124.5,419.7 126.5,421.6 128.5,422.8 130.5,423.4 132.5,423.5 134.5,423.2 136.5,423.0 138.5,423.0 140.5,423.3 142.5,423.7 144.5,424.0 146.5,424.2 148.5,424.1 150.5,423.5 152.5,422.6 154.5,421.2 156.5,419.3 158.5,417.8 160.5,416.3 162.5,414.4 164.5,411.9 166.5,408.9 168.5,406.1 170.5,404.4 172.5,403.5 174.5,403.0 176.5,402.4 178.5,401.8 180.5,401.1 182.5,400.0 184.5,399.2 186.5,399.4 188.5,400.4 190.5,401.6 192.5,402.6 194.5,403.5 196.5,404.0 198.5,404.4 200.5,405.1 202.5,406.1 204.5,408.1 206.5,411.3 208.5,415.3 210.5,419.5 212.5,423.5 214.5,427.5 216.5,431.5 218.5,435.8 220.5,440.4 222.5,445.1 224.5,449.7 226.5,454.1 228.5,458.8 230.5,463.2 232.5,466.9 234.5,469.5 236.5,472.0 238.5,474.5 240.5,477.0 242.5,479.8 244.5,482.5 246.5,485.1 248.5,486.9 250.5,487.9 252.5,488.3 254.5,488.4 256.5,488.0 258.5,487.5 260.5,486.8 262.5,486.3 264.5,486.3 266.5,486.8 268.5,487.1 270.5,487.2 272.5,486.9 274.5,486.1 276.5,484.6 278.5,482.3 280.5,479.4 282.5,476.6 284.5,473.6 286.5,470.5 288.5,467.0 290.5,463.7 292.5,461.0 294.5,458.3 296.5,456.0 298.5,454.4 300.5,453.6 302.5,453.1 304.5,452.7 306.5,452.6 308.5,452.6 310.5,452.5 312.5,452.8 314.5,453.2 316.5,453.5 318.5,453.7 320.5,454.2 322.5,454.8 324.5,455.4 326.5,455.9 328.5,456.6 330.5,457.3 332.5,458.2 334.5,459.4 336.5,461.1 338.5,462.4 340.5,463.8 342.5,465.2 344.5,467.0 346.5,468.7 348.5,470.0 350.5,471.2 352.5,471.9 354.5,471.8 356.5,470.7 358.5,467.8 360.5,463.7 362.5,460.1 364.5,456.1 366.5,451.8 368.5,447.9 370.5,444.6 372.5,442.3 374.5,440.7 376.5,440.0 378.5,440.0 380.5,440.6 382.5,441.7 384.5,443.2 386.5,444.5 388.5,445.4 390.5,445.5 392.5,445.2 394.5,444.3 396.5,442.7 398.5,440.5 400.5,438.8 402.5,437.3 404.5,436.5 406.5,436.6 408.5,436.9 410.5,437.4 412.5,438.1 414.5,439.1 416.5,440.3 418.5,442.1 420.5,443.9 422.5,445.8 424.5,447.5 426.5,448.7 428.5,449.3 430.5,449.6 432.5,449.4 434.5,448.7 436.5,447.7 438.5,446.7 440.5,445.5 442.5,444.4 444.5,442.9 446.5,441.4 448.5,439.6 450.5,438.0 452.5,436.9 454.5,436.3 456.5,435.8 458.5,435.6 460.5,435.6 462.5,435.4 464.5,435.0 466.5,434.5 468.5,433.7 470.5,433.2 472.5,432.8 474.5,432.5 476.5,432.6 478.5,433.0 480.5,433.4 482.5,433.8 484.5,434.3 486.5,434.9 488.5,435.4 490.5,436.0 492.5,436.6 494.5,437.2 496.5,437.6 498.5,437.6 500.5,437.0 502.5,435.7 504.5,434.0 506.5,431.7 508.5,428.6 510.5,424.9 512.5,420.6 514.5,416.5 516.5,412.8 518.5,409.9 520.5,407.3 522.5,405.5 524.5,404.2 526.5,403.2 528.5,402.1 530.5,401.3 532.5,400.6 534.5,400.5 536.5,401.1 538.5,402.5 540.5,404.2 542.5,405.8 544.5,407.5 546.5,409.2 548.5,411.0 550.5,412.3 552.5,412.9 554.5,412.9 556.5,412.7 558.5,412.5 560.5,412.5 562.5,412.9 564.5,413.7 566.5,415.1 568.5,417.2 570.5,419.9 572.5,422.8 574.5,425.5 576.5,428.0 578.5,430.3 580.5,433.1 582.5,435.9 584.5,438.7 586.5,441.1 588.5,442.6 590.5,443.3 592.5,443.7 594.5,443.4 596.5,443.0 598.5,442.2 600.5,441.1 602.5,440.1 604.5,439.3 606.5,438.4 608.5,437.4 610.5,436.4 612.5,435.3 614.5,434.6 616.5,433.9 618.5,433.1 620.5,432.3 622.5,431.8 624.5,431.5 626.5,431.3 628.5,431.3 630.5,431.1 632.5,430.5 634.5,429.9 636.5,429.6 638.5,429.8 640.5,430.8 642.5,432.5 644.5,434.2 646.5,436.0 648.5,438.0 650.5,440.3 652.5,442.6 654.5,444.7 656.5,446.3 658.5,447.7 660.5,449.1 662.5,450.1 664.5,450.7 666.5,450.8 668.5,450.6 670.5,450.0 672.5,448.9 674.5,447.6 676.5,446.1 678.5,444.4 680.5,442.4 682.5,439.8 684.5,436.9 686.5,433.7 688.5,429.8 690.5,425.7 692.5,421.1 694.5,416.7 696.5,413.3 698.5,411.3 700.5,410.5 702.5,410.4 704.5,410.9 706.5,412.1 708.5,413.4 710.5,414.9 712.5,416.9 714.5,418.6 716.5,419.7 718.5,420.3 720.5,421.1 722.5,422.3 724.5,423.6 726.5,424.6 728.5,425.5 730.5,426.0 732.5,426.4 734.5,426.8 736.5,427.3 738.5,428.2 740.5,429.6 742.5,430.8 744.5,431.2 746.5,431.0 748.5,430.3 750.5,429.6 752.5,429.4 754.5,430.4 756.5,432.0 758.5,434.3 760.5,436.7 762.5,439.1 764.5,441.6 766.5,443.6 768.5,445.3 770.5,446.8" fill="none" stroke="#4cbf7c" stroke-width="1.0" stroke-linejoin="round" shape-rendering="crispEdges" />
<polyline points="74.5,443.3 76.5,438.2 78.5,432.0 80.5,427.5 82.5,422.6 84.5,420.9 86.5,418.4 88.5,414.4 90.5,411.3 92.5,410.3 94.5,411.4 96.5,411.5 98.5,410.2 100.5,408.4 102.5,408.5 104.5,407.4 106.5,407.5 108.5,408.0 110.5,407.8 112.5,407.6 114.5,409.1 116.5,413.6 118.5,420.6 120.5,423.5 122.5,427.7 124.5,429.8 126.5,429.1 128.5,427.5 130.5,425.8 132.5,423.9 134.5,421.9 136.5,422.5 138.5,422.7 140.5,424.4 142.5,425.5 144.5,425.0 146.5,425.0 148.5,423.8 150.5,421.0 152.5,419.3 154.5,415.4 156.5,411.9 158.5,411.8 160.5,410.0 162.5,406.7 164.5,401.9 166.5,396.8 168.5,395.0 170.5,397.7 172.5,399.9 174.5,401.1 176.5,399.7 178.5,399.8 180.5,398.0 182.5,395.8 184.5,396.1 186.5,400.1 188.5,404.4 190.5,406.2 192.5,406.7 194.5,407.0 196.5,406.1 198.5,406.2 200.5,407.6 202.5,410.4 204.5,415.8 206.5,424.2 208.5,431.1 210.5,436.6 212.5,439.6 214.5,443.3 216.5,447.8 218.5,452.7 220.5,458.9 222.5,464.0 224.5,468.2 226.5,471.5 228.5,477.5 230.5,481.0 232.5,481.5 234.5,479.9 236.5,481.8 238.5,484.7 240.5,486.8 242.5,490.9 244.5,493.6 246.5,495.2 248.5,494.2 250.5,491.8 252.5,490.1 254.5,488.8 256.5,486.6 258.5,485.2 260.5,484.1 262.5,484.3 264.5,486.4 266.5,488.8 268.5,488.3 270.5,487.5 272.5,485.6 274.5,482.9 276.5,478.7 278.5,473.3 280.5,467.7 282.5,465.2 284.5,461.9 286.5,457.8 288.5,453.2 290.5,450.7 292.5,449.9 294.5,447.7 296.5,446.8 298.5,447.7 300.5,450.5 302.5,451.2 304.5,450.9 306.5,452.3 308.5,452.4 310.5,452.4 312.5,454.0 314.5,454.9 316.5,454.5 318.5,454.8 320.5,456.0 322.5,457.3 324.5,457.7 326.5,458.0 328.5,459.3 330.5,460.0 332.5,461.9 334.5,464.3 336.5,467.5 338.5,468.0 340.5,469.3 342.5,470.9 344.5,474.1 346.5,475.4 348.5,475.5 350.5,475.6 352.5,475.0 354.5,471.5 356.5,466.0 358.5,456.3 360.5,447.3 362.5,445.6 364.5,440.3 366.5,434.5 368.5,432.4 370.5,431.2 372.5,433.1 374.5,434.5 376.5,437.1 378.5,439.9 380.5,443.0 382.5,446.3 384.5,449.3 386.5,449.6 388.5,448.7 390.5,446.3 392.5,443.6 394.5,441.0 396.5,436.0 398.5,432.0 400.5,431.7 402.5,431.3 404.5,433.3 406.5,437.1 408.5,438.1 410.5,439.3 412.5,440.9 414.5,443.1 416.5,445.2 418.5,449.2 420.5,451.1 422.5,453.2 424.5,454.6 426.5,453.2 428.5,451.7 430.5,451.0 432.5,448.6 434.5,445.6 436.5,443.8 438.5,442.7 440.5,440.8 442.5,440.0 444.5,437.1 446.5,435.2 448.5,432.4 450.5,431.6 452.5,432.7 454.5,433.9 456.5,433.8 458.5,434.8 460.5,435.4 462.5,434.8 464.5,433.2 466.5,432.4 468.5,430.6 470.5,431.2 472.5,431.3 474.5,431.4 476.5,432.7 478.5,434.6 480.5,434.9 482.5,435.8 484.5,436.1 486.5,437.2 488.5,437.7 490.5,438.3 492.5,439.1 494.5,439.6 496.5,439.1 498.5,437.8 500.5,434.4 502.5,430.8 504.5,426.9 506.5,422.7 508.5,416.0 510.5,410.4 512.5,403.1 514.5,400.3 516.5,398.0 518.5,398.2 520.5,396.7 522.5,398.6 524.5,399.1 526.5,399.1 528.5,397.6 530.5,398.0 532.5,397.7 534.5,400.4 536.5,403.6 538.5,408.0 540.5,410.7 542.5,412.6 544.5,414.3 546.5,415.9 548.5,418.1 550.5,417.5 552.5,415.5 554.5,412.5 556.5,412.2 558.5,411.7 560.5,412.7 562.5,414.1 564.5,416.9 566.5,420.7 568.5,425.7 570.5,430.8 572.5,434.3 574.5,436.1 576.5,438.0 578.5,439.8 580.5,444.3 582.5,447.2 584.5,450.0 586.5,450.6 588.5,448.5 590.5,446.3 592.5,445.0 594.5,442.3 596.5,441.2 598.5,439.1 600.5,437.0 602.5,436.0 604.5,435.8 606.5,434.8 608.5,433.7 610.5,432.3 612.5,431.2 614.5,431.6 616.5,430.9 618.5,429.8 620.5,429.4 622.5,429.6 624.5,430.4 626.5,430.7 628.5,431.0 630.5,430.3 632.5,428.4 634.5,427.6 636.5,428.3 638.5,430.7 640.5,434.9 642.5,439.1 644.5,441.2 646.5,443.2 648.5,445.8 650.5,449.5 652.5,451.8 654.5,453.1 656.5,452.7 658.5,453.5 660.5,454.7 662.5,454.1 664.5,453.1 666.5,451.4 668.5,449.4 670.5,447.9 672.5,444.7 674.5,442.4 676.5,439.9 678.5,437.7 680.5,434.6 682.5,429.3 684.5,425.4 686.5,420.5 688.5,414.3 690.5,409.6 692.5,402.5 694.5,399.3 696.5,399.7 698.5,403.2 700.5,407.4 702.5,409.8 704.5,412.9 706.5,417.0 708.5,418.6 710.5,421.0 712.5,424.9 714.5,425.3 716.5,424.0 718.5,422.6 720.5,424.2 722.5,427.3 724.5,428.6 726.5,428.7 728.5,429.0 730.5,428.1 732.5,428.2 734.5,428.1 736.5,429.2 738.5,432.2 740.5,435.2 742.5,435.3 744.5,432.8 746.5,430.3 748.5,427.2 750.5,426.9 752.5,428.9 754.5,434.2 756.5,438.6 758.5,443.5 760.5,446.0 762.5,448.8 764.5,451.5 766.5,451.9 768.5,452.2 770.5,452.6" fill="none" stroke="#2f87f2" stroke-width="1.0" stroke-linejoin="round" shape-rendering="crispEdges" />
<line x1="72" y1="518.5" x2="838" y2="518.5" stroke="#e2e7ed" stroke-dasharray="3,3"/>
<rect x="73" y="521.9" width="697" height="1" fill="#c4c4c4"/>
<rect x="73" y="536.0" width="697" height="1" fill="#c4c4c4"/>
<rect x="73" y="562.9" width="697" height="1" fill="#c4c4c4"/>
<rect x="73" y="589.6" width="697" height="1" fill="#c4c4c4"/>
<rect x="73" y="601.8" width="697" height="1" fill="#c4c4c4"/>
<path d="M71,517.7h1.2v1h-1.2zM839,517.7h1.2v1h-1.2zM71,523.3h1.2v1h-1.2zM839,523.3h1.2v1h-1.2zM71,528.9h1.2v1h-1.2zM839,528.9h1.2v1h-1.2zM71,534.4h1.2v1h-1.2zM839,534.4h1.2v1h-1.2zM71,540.0h1.2v1h-1.2zM839,540.0h1.2v1h-1.2zM71,545.6h1.2v1h-1.2zM839,545.6h1.2v1h-1.2zM71,551.2h1.2v1h-1.2zM839,551.2h1.2v1h-1.2zM71,556.8h1.2v1h-1.2zM839,556.8h1.2v1h-1.2zM71,562.3h1.2v1h-1.2zM839,562.3h1.2v1h-1.2zM71,567.9h1.2v1h-1.2zM839,567.9h1.2v1h-1.2zM71,573.5h1.2v1h-1.2zM839,573.5h1.2v1h-1.2zM71,579.1h1.2v1h-1.2zM839,579.1h1.2v1h-1.2zM71,584.7h1.2v1h-1.2zM839,584.7h1.2v1h-1.2zM71,590.2h1.2v1h-1.2zM839,590.2h1.2v1h-1.2zM71,595.8h1.2v1h-1.2zM839,595.8h1.2v1h-1.2zM71,601.4h1.2v1h-1.2zM839,601.4h1.2v1h-1.2z" fill="#b8bfca"/>
<text x="68" y="521.8" text-anchor="end" class="ax">82.8354</text>
<text x="842" y="521.8" class="ax">82.8354</text>
<text x="68" y="549.7" text-anchor="end" class="ax">61.8902</text>
<text x="842" y="549.7" class="ax">61.8902</text>
<rect x="69" y="545.6" width="3" height="1" fill="#a9b0bb"/>
<rect x="839" y="545.6" width="3" height="1" fill="#a9b0bb"/>
<text x="68" y="577.6" text-anchor="end" class="ax">40.9451</text>
<text x="842" y="577.6" class="ax">40.9451</text>
<rect x="69" y="573.5" width="3" height="1" fill="#a9b0bb"/>
<rect x="839" y="573.5" width="3" height="1" fill="#a9b0bb"/>
<polyline points="74.5,555.6 76.5,546.4 78.5,540.5 80.5,541.7 82.5,537.9 84.5,547.6 86.5,543.9 88.5,538.1 90.5,537.9 92.5,542.7 94.5,550.8 96.5,547.4 98.5,542.7 100.5,539.7 102.5,545.9 104.5,541.7 106.5,544.8 108.5,545.1 110.5,542.1 112.5,541.1 114.5,548.5 116.5,562.0 118.5,572.6 120.5,562.7 122.5,568.1 124.5,563.8 126.5,556.2 128.5,552.9 130.5,551.2 132.5,549.1 134.5,547.5 136.5,555.5 138.5,554.1 140.5,559.5 142.5,558.3 144.5,552.8 146.5,553.9 148.5,549.1 150.5,543.3 152.5,545.0 154.5,537.5 156.5,535.9 158.5,547.4 160.5,542.2 162.5,537.1 164.5,532.2 166.5,529.3 168.5,537.2 170.5,551.0 172.5,550.0 174.5,547.8 176.5,541.7 178.5,544.3 180.5,539.6 182.5,537.1 184.5,543.5 186.5,554.9 188.5,557.5 190.5,552.2 192.5,549.1 194.5,548.0 196.5,544.6 198.5,546.0 200.5,550.2 202.5,555.6 204.5,565.4 206.5,575.8 208.5,576.2 210.5,576.3 212.5,571.0 214.5,574.7 216.5,579.2 218.5,582.8 220.5,588.3 222.5,589.0 224.5,590.2 226.5,590.8 228.5,597.8 230.5,594.2 232.5,585.8 234.5,579.1 236.5,587.1 238.5,590.6 240.5,591.3 242.5,596.1 244.5,596.4 246.5,596.4 248.5,588.7 250.5,583.9 252.5,585.9 254.5,587.2 256.5,584.2 258.5,586.5 260.5,587.9 262.5,591.5 264.5,596.9 266.5,599.0 268.5,589.5 270.5,589.8 272.5,585.4 274.5,582.0 276.5,574.0 278.5,566.3 280.5,562.5 282.5,570.7 284.5,565.9 286.5,561.4 288.5,556.7 290.5,562.3 292.5,566.8 294.5,561.4 296.5,565.0 298.5,571.0 300.5,577.9 302.5,571.6 304.5,569.3 306.5,574.6 308.5,571.3 310.5,571.3 312.5,577.2 314.5,576.4 316.5,571.8 318.5,574.8 320.5,578.6 322.5,580.7 324.5,578.3 326.5,578.9 328.5,583.4 330.5,583.3 332.5,588.7 334.5,592.3 336.5,596.3 338.5,585.0 340.5,588.7 342.5,591.3 344.5,596.7 346.5,591.5 348.5,588.8 350.5,589.9 352.5,588.2 354.5,571.9 356.5,561.6 358.5,545.4 360.5,542.4 362.5,562.0 364.5,552.2 366.5,548.7 368.5,556.0 370.5,557.1 372.5,564.7 374.5,564.3 376.5,568.1 378.5,570.2 380.5,572.6 382.5,574.9 384.5,576.3 386.5,569.0 388.5,565.2 390.5,560.0 392.5,557.6 394.5,556.4 396.5,547.9 398.5,547.5 400.5,558.3 402.5,557.7 404.5,565.3 406.5,572.2 408.5,564.9 410.5,566.5 412.5,568.2 414.5,571.5 416.5,573.1 418.5,579.8 420.5,575.2 422.5,577.5 424.5,576.9 426.5,566.7 428.5,565.4 430.5,567.9 432.5,561.0 434.5,557.0 436.5,559.8 438.5,561.1 440.5,557.2 442.5,560.3 444.5,551.6 446.5,553.1 448.5,548.2 450.5,555.0 452.5,562.5 454.5,563.9 456.5,558.7 458.5,563.5 460.5,562.6 462.5,557.1 464.5,552.4 466.5,555.0 468.5,549.5 470.5,559.4 472.5,557.9 474.5,557.2 476.5,563.1 478.5,567.2 480.5,561.0 482.5,564.1 484.5,561.6 486.5,565.6 488.5,564.1 490.5,565.0 492.5,566.7 494.5,565.9 496.5,560.3 498.5,554.3 500.5,543.0 502.5,539.4 504.5,535.3 506.5,531.4 508.5,523.3 510.5,522.4 512.5,517.4 514.5,532.6 516.5,531.4 518.5,540.1 520.5,535.1 522.5,547.4 524.5,543.4 526.5,541.8 528.5,537.2 530.5,542.4 532.5,539.9 534.5,550.1 536.5,553.0 538.5,558.7 540.5,555.4 542.5,553.4 544.5,553.1 546.5,553.1 548.5,556.4 550.5,547.5 552.5,542.3 554.5,538.1 556.5,546.3 558.5,544.9 560.5,549.8 562.5,551.6 564.5,558.2 566.5,563.7 568.5,570.6 570.5,573.9 572.5,571.6 574.5,566.8 576.5,568.4 578.5,570.1 580.5,580.8 582.5,577.9 584.5,579.7 586.5,572.3 588.5,561.8 590.5,559.6 592.5,562.0 594.5,555.4 596.5,560.5 598.5,555.4 600.5,553.7 602.5,557.2 604.5,559.4 606.5,555.6 608.5,554.1 610.5,551.5 612.5,551.2 614.5,558.5 616.5,553.0 618.5,550.4 620.5,552.1 622.5,555.4 624.5,558.4 626.5,556.2 628.5,556.0 630.5,550.2 632.5,543.2 634.5,546.9 636.5,556.3 638.5,566.7 640.5,576.6 642.5,580.2 644.5,573.3 646.5,574.4 648.5,579.3 650.5,585.4 652.5,582.6 654.5,579.9 656.5,572.1 658.5,577.2 660.5,580.3 662.5,571.7 664.5,570.0 666.5,565.4 668.5,562.5 670.5,563.2 672.5,553.4 674.5,555.3 676.5,551.4 678.5,550.6 680.5,544.5 682.5,534.0 684.5,535.7 686.5,530.1 688.5,524.6 690.5,524.3 692.5,518.4 694.5,529.8 696.5,542.9 698.5,554.0 700.5,558.2 702.5,554.2 704.5,557.5 706.5,562.8 708.5,556.5 710.5,560.1 712.5,566.1 714.5,557.1 716.5,551.8 718.5,550.5 720.5,559.7 722.5,565.1 724.5,560.9 726.5,557.9 728.5,558.0 730.5,554.2 732.5,557.0 734.5,555.8 736.5,560.2 738.5,567.8 740.5,570.1 742.5,561.0 744.5,552.2 746.5,550.5 748.5,547.0 750.5,555.1 752.5,562.9 754.5,573.9 756.5,574.4 758.5,578.0 760.5,573.2 762.5,575.7 764.5,577.6 766.5,570.8 768.5,571.2 770.5,572.2" fill="none" stroke="#3aa9e3" stroke-width="1.0" stroke-linejoin="round" shape-rendering="crispEdges" />
<rect x="76" y="604" width="1" height="5" fill="#cdd3dc"/>
<text x="78.4" y="616" class="yr">1997</text>
<rect x="124" y="604" width="1" height="5" fill="#cdd3dc"/>
<text x="126.4" y="616" class="yr">1999</text>
<rect x="172" y="604" width="1" height="5" fill="#cdd3dc"/>
<text x="174.4" y="616" class="yr">2001</text>
<rect x="220" y="604" width="1" height="5" fill="#cdd3dc"/>
<text x="222.4" y="616" class="yr">2003</text>
<rect x="268" y="604" width="1" height="5" fill="#cdd3dc"/>
<text x="270.4" y="616" class="yr">2005</text>
<rect x="316" y="604" width="1" height="5" fill="#cdd3dc"/>
<text x="318.4" y="616" class="yr">2007</text>
<rect x="364" y="604" width="1" height="5" fill="#cdd3dc"/>
<text x="366.4" y="616" class="yr">2009</text>
<rect x="412" y="604" width="1" height="5" fill="#cdd3dc"/>
<text x="414.4" y="616" class="yr">2011</text>
<rect x="460" y="604" width="1" height="5" fill="#cdd3dc"/>
<text x="462.4" y="616" class="yr">2013</text>
<rect x="508" y="604" width="1" height="5" fill="#cdd3dc"/>
<text x="510.4" y="616" class="yr">2015</text>
<rect x="556" y="604" width="1" height="5" fill="#cdd3dc"/>
<text x="558.4" y="616" class="yr">2017</text>
<rect x="604" y="604" width="1" height="5" fill="#cdd3dc"/>
<text x="606.4" y="616" class="yr">2019</text>
<rect x="652" y="604" width="1" height="5" fill="#cdd3dc"/>
<text x="654.4" y="616" class="yr">2021</text>
<rect x="700" y="604" width="1" height="5" fill="#cdd3dc"/>
<text x="702.4" y="616" class="yr">2023</text>
<rect x="748" y="604" width="1" height="5" fill="#cdd3dc"/>
<text x="750.4" y="616" class="yr">2025</text>
<g stroke="#ff8c1a" fill="none" stroke-width="1"><circle cx="174.8" cy="11.5" r="3.9"/><path d="M170.9,11.5h7.8M174.8,7.6v7.8" stroke-width="0.9"/></g>
<rect x="187.6" y="1.4" width="11" height="12.2" fill="#fff" stroke="#14148a" stroke-width="1.2"/>
<rect x="188.2" y="13.2" width="11" height="1.2" fill="#14148a" opacity="0.6"/>
<polyline points="188.3,8.4 191.5,4.4 194.4,7.7 197.9,5.4" fill="none" stroke="#ff1010" stroke-width="1"/>
<polyline points="188.3,11.6 191.5,7.4 194.4,10.4 197.9,8.2" fill="none" stroke="#1010ff" stroke-width="1"/>
<rect x="775.6" y="1.6" width="12.8" height="12.8" fill="#fff" stroke="#1f77d4" stroke-width="1.2"/>
<rect x="791.6" y="1.6" width="12.8" height="12.8" fill="#fff" stroke="#1f77d4" stroke-width="1.2"/>
<rect x="807.6" y="1.6" width="12.8" height="12.8" fill="#fff" stroke="#1f77d4" stroke-width="1.2"/>
<rect x="823.6" y="1.6" width="12.8" height="12.8" fill="#fff" stroke="#1f77d4" stroke-width="1.2"/>
<path d="M781,3.2h2v2.4h-2zM781,10h2v2.7h-2zM777.1,6.8h2.8v2h-2.8zM784,6.8h3v2h-3zM781,6.8h2v2h-2z" fill="#1f77d4"/>
<g stroke="#1f77d4" stroke-width="1.1" fill="none"><path d="M794.4,3.5v8.2h8.6M793,5l1.4,-1.6l1.4,1.6M801.4,10.3l1.5,1.4l-1.5,1.4"/><path d="M797.6,4.3v5.2"/></g>
<path d="M798.2,6.9l3,-2.5v5z" fill="#1f77d4"/>
<g stroke="#1f77d4" stroke-width="1.1" fill="none"><path d="M810.4,3.5v8.2h8.6M809,5l1.4,-1.6l1.4,1.6M817.4,10.3l1.5,1.4l-1.5,1.4"/></g>
<path d="M812.4,4.2l5.2,3.2l-5.2,3.2z" fill="#1f77d4"/>
<g stroke="#1f77d4" stroke-width="1.1" fill="none"><path d="M825.6,3.8h2.8v8.4h-2.8z"/></g>
<path d="M828.4,6.9h3.4v-2.4l3,3.1l-3,3.1v-2.4h-3.4z" fill="#1f77d4"/>
<g fill="#ff1a1a"><circle cx="11" cy="503.7" r="2"/><rect x="10.3" y="496.8" width="1.3" height="2"/><rect x="10.3" y="508.8" width="1.3" height="2"/><rect x="3.9" y="503" width="2" height="1.3"/><rect x="16" y="503" width="2" height="1.3"/></g>
<g stroke="#ff1a1a" stroke-width="1.2"><path d="M5.4,498.3l1.5,1.5M15.1,508l1.5,1.5M16.6,498.3l-1.5,1.5M6.9,508l-1.5,1.5"/></g>
<circle cx="11" cy="503.7" r="3.6" fill="none" stroke="#111" stroke-width="1"/>
<rect x="2" y="603" width="70" height="1" fill="#cfd4dc"/>
<rect x="71" y="603" width="1" height="19" fill="#dde1e8"/>
<rect x="377" y="620" width="460" height="1" fill="#e3e7ed"/>
<rect x="2" y="622" width="906" height="2" fill="#d4d7dc"/>
<rect x="2" y="622" width="39" height="2" fill="#ff6a13"/>
<path d="M46.8,618 L50.8,610 L54.8,618 Z" fill="#ff7a00"/>
</svg>
<div class="hd" style="left:74px;top:3px;color:#111;-webkit-text-stroke:0.3px #111">美元指数</div>
<div class="hd" style="left:121.5px;top:3px;color:#ff8000;-webkit-text-stroke:0.3px #ff8000">【月线】</div>
<div class="hd" style="left:202px;top:3px;color:#111;">MA(20,50,100,200,0,0)</div>
<div class="hd" style="left:334px;top:3px;color:#2f87f2;">MA20:102.2590</div>
<div class="hd" style="left:431px;top:3px;color:#4cbf7c;">MA50:102.9217</div>
<div class="hd" style="left:527.5px;top:3px;color:#3aa9e3;">MA100:98.7954</div>
<div class="hd" style="left:624px;top:3px;color:#ff8a3b;">MA200:92.17</div>
<div class="hd" style="left:74px;top:376px;color:#111;">MACD(26,12,9)</div>
<div class="hd" style="left:164.5px;top:376px;color:#2f87f2;">DIFF:-1.2515</div>
<div class="hd" style="left:243.5px;top:376px;color:#4cbf7c;">DEA:-0.7130</div>
<div class="hd" style="left:322px;top:376px;color:#3aa9e3;">MACD:-1.0770</div>
<div class="hd" style="left:74px;top:500px;color:#111;">RSI(14,14,14)</div>
<div class="hd" style="left:153px;top:500px;color:#2f87f2;">RSI1:44.0341</div>
<div class="hd" style="left:236px;top:500px;color:#4cbf7c;">RSI2:44.0341</div>
<div class="hd" style="left:318px;top:500px;color:#3aa9e3;">RSI3:44.0341</div>
<div class="hd" style="left:400px;top:500px;color:#aaa;">L20:20.0000</div>
<div class="hd" style="left:476.5px;top:500px;color:#aaa;">L30:30.0000</div>
<div class="hd" style="left:551px;top:500px;color:#aaa;">L50:50.0000</div>
<div class="hd" style="left:627px;top:500px;color:#aaa;">L70:70.0000</div>
<div class="hd" style="left:703px;top:500px;color:#aaa;">L80:80.0000</div>
<div class="hd" style="left:15.5px;top:606.7px;color:#ff7a00;font-weight:bold;font-size:13px">月线</div>
</body></html>
